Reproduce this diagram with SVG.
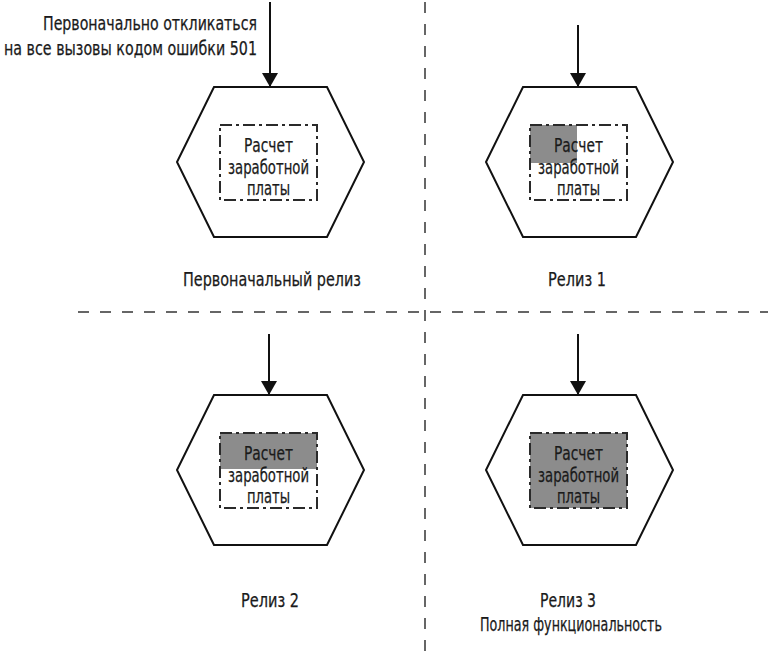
<svg xmlns="http://www.w3.org/2000/svg" width="768" height="652" viewBox="0 0 768 652">
  <style>
    .hex { fill: #ffffff; stroke: #111111; stroke-width: 2; stroke-linejoin: miter; }
    .box { fill: none; stroke: #2a2a2a; stroke-width: 2; stroke-dasharray: 12 4 3 4; }
    .done { fill: #8c8c8c; stroke: none; }
    .t { font-family: "Liberation Sans Narrow", "DejaVu Sans Condensed", "Liberation Sans", sans-serif; font-size: 19px; fill: #1a1a1a; stroke: #1a1a1a; stroke-width: 0.25; }
    .mid { text-anchor: middle; }
    .wire { stroke: #111111; stroke-width: 2; fill: none; }
    .split { stroke: #666666; stroke-width: 2; stroke-dasharray: 11 11; fill: none; }
  </style>
  <defs>
    <marker id="tip" viewBox="0 0 14 16" refX="14" refY="8" markerWidth="14" markerHeight="16" markerUnits="userSpaceOnUse" orient="auto">
      <path d="M0,0 L14,8 L0,16 z" fill="#111111"/>
    </marker>
  </defs>

  <rect width="768" height="652" fill="#ffffff"/>

  <!-- quadrant separators -->
  <g id="separators">
    <line class="split" x1="425" y1="2" x2="425" y2="652"/>
    <line class="split" x1="78" y1="312" x2="768" y2="312"/>
  </g>

  <!-- incoming calls -->
  <g id="connectors">
    <line class="wire" x1="270" y1="2" x2="270" y2="87" marker-end="url(#tip)"/>
    <line class="wire" x1="578" y1="25" x2="578" y2="87" marker-end="url(#tip)"/>
    <line class="wire" x1="269" y1="334" x2="269" y2="395" marker-end="url(#tip)"/>
    <line class="wire" x1="578" y1="334" x2="578" y2="395" marker-end="url(#tip)"/>
  </g>

  <g id="note">
    <text class="t" x="257" y="30" text-anchor="end" textLength="214" lengthAdjust="spacingAndGlyphs">Первоначально откликаться</text>
    <text class="t" x="257" y="55" text-anchor="end" textLength="253" lengthAdjust="spacingAndGlyphs">на все вызовы кодом ошибки 501</text>
  </g>

  <!-- initial release: stub only -->
  <g id="release0">
    <polygon class="hex" points="214,87 327,87 364,162 327,237 214,237 177,162"/>
    <rect class="box" x="220" y="125" width="97" height="75"/>
    <text class="t mid" x="268.5" y="152" textLength="49" lengthAdjust="spacingAndGlyphs">Расчет</text>
    <text class="t mid" x="268.5" y="174" textLength="81" lengthAdjust="spacingAndGlyphs">заработной</text>
    <text class="t mid" x="268.5" y="195" textLength="43" lengthAdjust="spacingAndGlyphs">платы</text>
    <text class="t mid" x="272" y="286" textLength="178" lengthAdjust="spacingAndGlyphs">Первоначальный релиз</text>
  </g>

  <!-- release 1 -->
  <g id="release1">
    <polygon class="hex" points="523,87 636,87 673,162 636,237 523,237 486,162"/>
    <rect class="done" x="530" y="125" width="47" height="38"/>
    <rect class="box" x="530" y="125" width="97" height="75"/>
    <text class="t mid" x="578.5" y="152" textLength="49" lengthAdjust="spacingAndGlyphs">Расчет</text>
    <text class="t mid" x="578.5" y="174" textLength="81" lengthAdjust="spacingAndGlyphs">заработной</text>
    <text class="t mid" x="578.5" y="195" textLength="43" lengthAdjust="spacingAndGlyphs">платы</text>
    <text class="t mid" x="577" y="286" textLength="58" lengthAdjust="spacingAndGlyphs">Релиз 1</text>
  </g>

  <!-- release 2 -->
  <g id="release2">
    <polygon class="hex" points="214,395 327,395 364,470 327,545 214,545 177,470"/>
    <rect class="done" x="220" y="433" width="97" height="36"/>
    <rect class="box" x="220" y="433" width="97" height="75"/>
    <text class="t mid" x="268.5" y="460" textLength="49" lengthAdjust="spacingAndGlyphs">Расчет</text>
    <text class="t mid" x="268.5" y="482" textLength="81" lengthAdjust="spacingAndGlyphs">заработной</text>
    <text class="t mid" x="268.5" y="503" textLength="43" lengthAdjust="spacingAndGlyphs">платы</text>
    <text class="t mid" x="270" y="607" textLength="58" lengthAdjust="spacingAndGlyphs">Релиз 2</text>
  </g>

  <!-- release 3: full functionality -->
  <g id="release3">
    <polygon class="hex" points="523,395 636,395 673,470 636,545 523,545 486,470"/>
    <rect class="done" x="530" y="433" width="97" height="75" fill="#7e7e7e"/>
    <rect class="box" x="530" y="433" width="97" height="75"/>
    <text class="t mid" x="578.5" y="460" textLength="49" lengthAdjust="spacingAndGlyphs">Расчет</text>
    <text class="t mid" x="578.5" y="482" textLength="81" lengthAdjust="spacingAndGlyphs">заработной</text>
    <text class="t mid" x="578.5" y="503" textLength="43" lengthAdjust="spacingAndGlyphs">платы</text>
    <text class="t mid" x="568" y="607" textLength="56" lengthAdjust="spacingAndGlyphs">Релиз 3</text>
    <text class="t mid" x="571" y="631" textLength="182" lengthAdjust="spacingAndGlyphs">Полная функциональность</text>
  </g>
</svg>
